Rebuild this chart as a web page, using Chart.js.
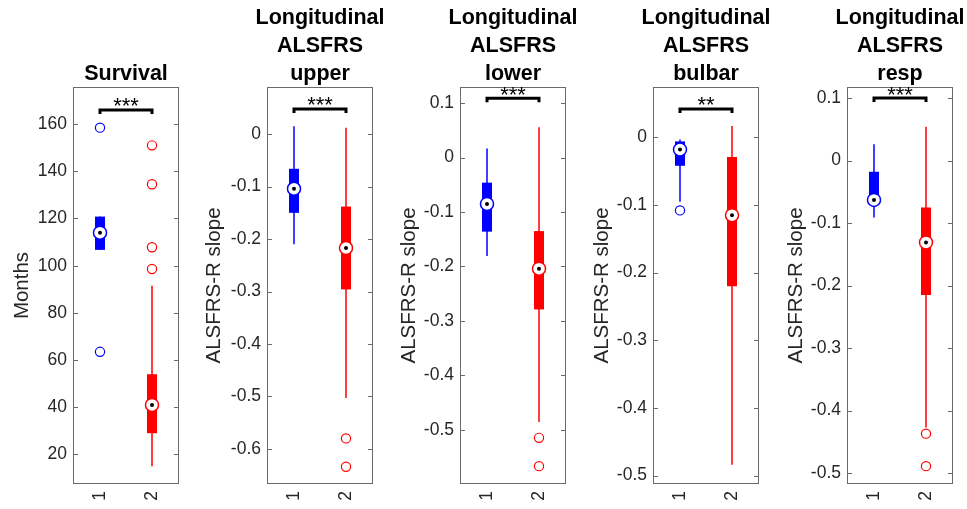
<!DOCTYPE html>
<html>
<head>
<meta charset="utf-8">
<script src="https://cdn.jsdelivr.net/npm/chart.js@4"></script>
<style>
    html, body { margin: 0; padding: 0; background: #ffffff; }
    #wrap { position: relative; width: 967px; height: 509px; overflow: hidden; }
    #wrap canvas { position: absolute; top: 0; }
</style>
</head>
<body>
<div id="wrap"></div>
<script>
// panel texts
const panelTitles = [
    ['Survival'],
    ['Longitudinal', 'ALSFRS', 'upper'],
    ['Longitudinal', 'ALSFRS', 'lower'],
    ['Longitudinal', 'ALSFRS', 'bulbar'],
    ['Longitudinal', 'ALSFRS', 'resp']
];
const yAxisTitles = ['Months', 'ALSFRS-R slope', 'ALSFRS-R slope', 'ALSFRS-R slope', 'ALSFRS-R slope'];
const categories = ['1', '2'];

// axis limits and tick labels
const yMin = [7.9, -0.665, -0.598, -0.511, -0.516];
const yMax = [175.3, 0.088, 0.128, 0.073, 0.116];
const yTickValues = [
    [20, 40, 60, 80, 100, 120, 140, 160],
    [-0.6, -0.5, -0.4, -0.3, -0.2, -0.1, 0],
    [-0.5, -0.4, -0.3, -0.2, -0.1, 0, 0.1],
    [-0.5, -0.4, -0.3, -0.2, -0.1, 0],
    [-0.5, -0.4, -0.3, -0.2, -0.1, 0, 0.1]
];

// significance brackets
const significance = ['***', '***', '***', '**', '***'];
const bracketLevel = [166, 0.048, 0.109, 0.042, 0.1];

// group 1 (blue)
const g1Low = [106.7, -0.210, -0.181, -0.095, -0.091];
const g1Q1 = [106.7, -0.150, -0.136, -0.042, -0.066];
const g1Median = [114, -0.104, -0.085, -0.018, -0.063];
const g1Q3 = [120.8, -0.066, -0.046, -0.006, -0.018];
const g1High = [120.8, 0.015, 0.017, -0.003, 0.026];
const g1Outliers = [[158.5, 63.5], [], [], [-0.108], []];

// group 2 (red)
const g2Low = [15, -0.503, -0.486, -0.484, -0.427];
const g2Q1 = [29, -0.296, -0.279, -0.220, -0.215];
const g2Median = [41, -0.217, -0.204, -0.115, -0.131];
const g2Q3 = [54, -0.138, -0.135, -0.029, -0.075];
const g2High = [91.5, 0.012, 0.056, 0.017, 0.054];
const g2Outliers = [[151, 134.5, 107.8, 98.6], [-0.580, -0.634], [-0.515, -0.567], [], [-0.437, -0.489]];

const groupColors = ['#0000ff', '#ff0000'];

document.addEventListener('DOMContentLoaded', () => {
    const wrap = document.getElementById('wrap');
    const plotLeft = [74, 268, 461, 654, 848];
    const plotWidth = 104;
    const plotTop = 88;
    const axisSpace = 70;
    const rightPad = 12;
    const yTitlePad = [6, 4, 6, 6, 6];
    const textColor = '#262626';
    const frameColor = '#6a6a6a';
    const fontFamily = "'Liberation Sans', Arial, sans-serif";

    function segment(x, a, b) {
        return [{ x: x, y: a }, { x: x, y: b }];
    }

    function groupDatasets(g, x, low, q1, med, q3, high, outliers) {
        const color = groupColors[g];
        return [
            { data: segment(x, low, high), showLine: true, borderColor: color, borderWidth: 1.5, pointRadius: 0, order: 5 },
            { data: segment(x, q1, q3), showLine: true, borderColor: color, borderWidth: 10, borderCapStyle: 'butt', pointRadius: 0, order: 4 },
            { data: outliers.map(v => ({ x: x, y: v })), pointRadius: 4.6, pointBorderWidth: 1.2,
              pointBorderColor: color, pointBackgroundColor: 'rgba(0,0,0,0)', order: 3 },
            { data: [{ x: x, y: med }], pointRadius: 6.5, pointBorderWidth: 1.5,
              pointBorderColor: color, pointBackgroundColor: '#ffffff', order: 2 },
            { data: [{ x: x, y: med }], pointRadius: 2, pointBorderWidth: 0,
              pointBackgroundColor: '#000000', order: 1 }
        ];
    }

    // title, frame, inward ticks, significance bracket
    const decorations = {
        id: 'decorations',
        afterDatasetsDraw(chart, args, opts) {
            const { ctx, chartArea } = chart;
            const xs = chart.scales.x;
            const ys = chart.scales.y;
            ctx.save();

            ctx.fillStyle = '#000000';
            ctx.font = 'bold 21.5px ' + fontFamily;
            ctx.textAlign = 'center';
            ctx.textBaseline = 'middle';
            const cx = (chartArea.left + chartArea.right) / 2;
            opts.title.forEach((line, k) => {
                ctx.fillText(line, cx, chartArea.top - 14 - 28 * (opts.title.length - 1 - k));
            });

            ctx.strokeStyle = frameColor;
            ctx.lineWidth = 1;
            ctx.strokeRect(chartArea.left - 0.5, chartArea.top - 0.5,
                chartArea.right - chartArea.left + 1, chartArea.bottom - chartArea.top + 1);
            ys.ticks.forEach(t => {
                const y = Math.round(ys.getPixelForValue(t.value)) + 0.5;
                ctx.beginPath();
                ctx.moveTo(chartArea.left, y);
                ctx.lineTo(chartArea.left + 4, y);
                ctx.moveTo(chartArea.right, y);
                ctx.lineTo(chartArea.right - 4, y);
                ctx.stroke();
            });

            const by = ys.getPixelForValue(opts.level);
            const x1 = xs.getPixelForValue(1);
            const x2 = xs.getPixelForValue(2);
            ctx.strokeStyle = '#000000';
            ctx.lineWidth = 3;
            ctx.lineJoin = 'miter';
            ctx.beginPath();
            ctx.moveTo(x1, by + 4);
            ctx.lineTo(x1, by);
            ctx.lineTo(x2, by);
            ctx.lineTo(x2, by + 4);
            ctx.stroke();
            ctx.font = '22px ' + fontFamily;
            ctx.textBaseline = 'alphabetic';
            ctx.fillText(opts.stars, (x1 + x2) / 2, by + 3.5);
            ctx.restore();
        }
    };

    panelTitles.forEach((title, i) => {
        const canvas = document.createElement('canvas');
        const w = axisSpace + plotWidth + rightPad;
        canvas.width = w;
        canvas.height = 509;
        canvas.style.width = w + 'px';
        canvas.style.height = '509px';
        canvas.style.left = (plotLeft[i] - axisSpace) + 'px';
        wrap.appendChild(canvas);

        const datasets = [
            ...groupDatasets(0, 1, g1Low[i], g1Q1[i], g1Median[i], g1Q3[i], g1High[i], g1Outliers[i]),
            ...groupDatasets(1, 2, g2Low[i], g2Q1[i], g2Median[i], g2Q3[i], g2High[i], g2Outliers[i])
        ];

        new Chart(canvas.getContext('2d'), {
            type: 'scatter',
            data: { datasets: datasets },
            plugins: [decorations],
            options: {
                responsive: false,
                animation: false,
                devicePixelRatio: 1,
                layout: {
                    padding: { left: yTitlePad[i], right: rightPad, top: plotTop, bottom: 0 }
                },
                plugins: {
                    legend: { display: false },
                    tooltip: { enabled: false },
                    title: { display: false },
                    decorations: { level: bracketLevel[i], stars: significance[i], title: title }
                },
                scales: {
                    x: {
                        type: 'linear',
                        min: 0.5,
                        max: 2.5,
                        grid: { display: false, drawTicks: false },
                        border: { display: false },
                        afterBuildTicks: (s) => { s.ticks = categories.map((c, k) => ({ value: k + 1 })); },
                        afterFit: (s) => { s.height = 26; },
                        ticks: {
                            color: textColor,
                            font: { family: fontFamily, size: 17.5 },
                            minRotation: 90,
                            maxRotation: 90,
                            padding: 8,
                            callback: (v) => categories[Math.round(v) - 1]
                        }
                    },
                    y: {
                        type: 'linear',
                        min: yMin[i],
                        max: yMax[i],
                        grid: { display: false, drawTicks: false },
                        border: { display: false },
                        afterBuildTicks: (s) => { s.ticks = yTickValues[i].map(v => ({ value: v })); },
                        afterFit: (s) => { s.width = axisSpace - yTitlePad[i]; },
                        ticks: {
                            color: textColor,
                            font: { family: fontFamily, size: 17.5 },
                            padding: 7,
                            callback: (v) => String(v)
                        },
                        title: {
                            display: true,
                            text: yAxisTitles[i],
                            color: textColor,
                            font: { family: fontFamily, size: 20.5 },
                            padding: { top: 0, bottom: 0 }
                        }
                    }
                }
            }
        });
    });
});
</script>
</body>
</html>
